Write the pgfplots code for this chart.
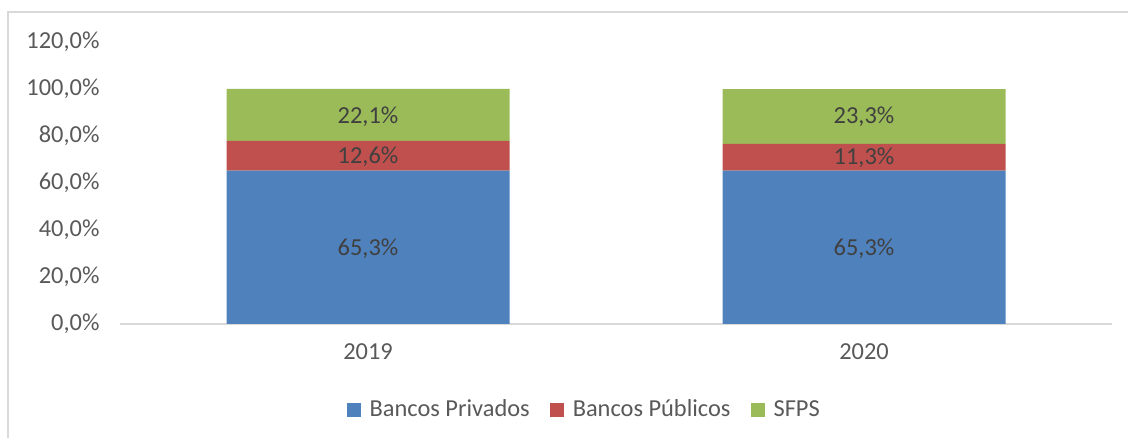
\documentclass[border=0pt]{standalone}
\usepackage{pgfplots}
\pgfplotsset{compat=1.18}
\usepackage{fontspec}
\setmainfont{Carlito}
\definecolor{privados}{HTML}{4F81BD}
\definecolor{publicos}{HTML}{C0504D}
\definecolor{sfps}{HTML}{9BBB59}
\definecolor{ticktext}{HTML}{595959}
\definecolor{datatext}{HTML}{404040}
\definecolor{frame}{HTML}{D9D9D9}
\newcommand\chartfont{\fontsize{12.2}{14.5}\selectfont}
\begin{document}
\chartfont
\begin{tikzpicture}
\path[use as bounding box] (0,0) rectangle (564pt,219pt);
% chart frame (cut off at the right and bottom)
\draw[frame, line width=0.6pt] (4pt,-2pt) -- (4pt,213pt) -- (566pt,213pt);

\pgfplotsset{
  base/.style={
    scale only axis,
    width=496pt, height=141pt,
    at={(60pt,57pt)}, anchor=south west,
    xmin=-0.5, xmax=1.5,
    ymin=0, ymax=120,
    clip=false,
  }
}

\begin{axis}[
    base,
    ybar stacked,
    bar width=141.5pt,
    axis y line*=left,
    axis x line*=bottom,
    y axis line style={draw=none},
    x axis line style={frame, line width=0.8pt, -},
    xtick={0,1},
    xticklabels={2019,2020},
    ytick={0,20,...,120},
    major tick length=0pt,
    /pgf/number format/assume math mode=true,
    yticklabel={\pgfmathprintnumber[fixed,fixed zerofill,precision=1,use comma]{\tick}\%},
    yticklabel style={text=ticktext, font=\chartfont, xshift=-6pt},
    xticklabel style={text=ticktext, font=\chartfont, yshift=-5.5pt},
    legend columns=3,
    legend style={at={(0.469,-0.305)}, anchor=center, draw=none, fill=none,
        font=\chartfont, text=ticktext,
        /tikz/every even column/.append style={column sep=8pt}},
    legend image code/.code={\fill[#1] (0pt,-3.5pt) rectangle (7pt,3.5pt);
        \path (9.5pt,0pt);},
]
\addplot[fill=privados, draw=none] coordinates {(0,65.3) (1,65.3)};
\addlegendentry{Bancos Privados}
\addplot[fill=publicos, draw=none] coordinates {(0,12.6) (1,11.3)};
\addlegendentry{Bancos Públicos}
\addplot[fill=sfps, draw=none] coordinates {(0,22.1) (1,23.3)};
\addlegendentry{SFPS}
\end{axis}

% data labels, centred in each segment
\begin{axis}[base, hide axis]
\addplot[only marks, mark=none, point meta=explicit symbolic,
    nodes near coords,
    nodes near coords style={anchor=center, text=datatext, font=\chartfont}]
table[meta=lab] {
x y lab
0 32.0 65,3\%
1 32.0 65,3\%
0 71.0 12,6\%
1 70.6 11,3\%
0 88.0 22,1\%
1 88.0 23,3\%
};
\end{axis}
\end{tikzpicture}
\end{document}
